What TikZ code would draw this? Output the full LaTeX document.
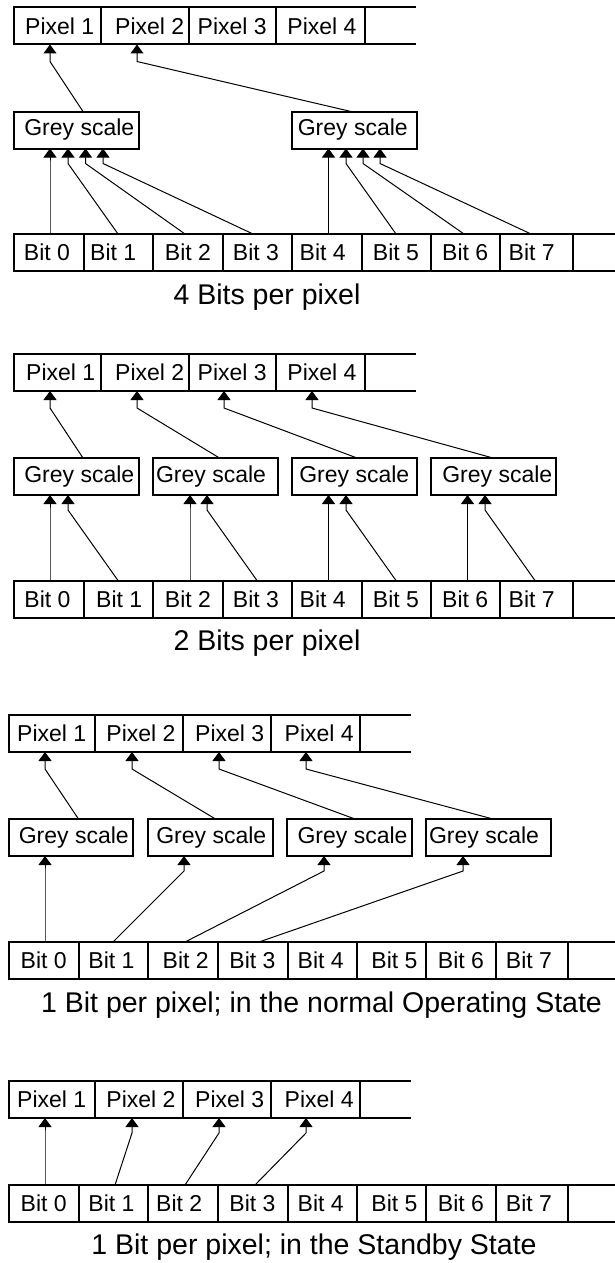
\documentclass[tikz,border=0pt]{standalone}
\usepackage{fontspec}
\setmainfont{Liberation Sans}
\usetikzlibrary{arrows.meta,calc}
\tikzset{
  cell/.style={draw, line width=2pt, inner sep=0pt, outer sep=0pt, anchor=north west,
    minimum height=37pt, font=\fontsize{23}{27}\selectfont},
  con/.style={line width=1pt, -{Triangle[width=13pt,length=9pt]}},
  ext/.style={line width=2pt},
  capt/.style={font=\fontsize{28.5}{32}\selectfont, inner sep=0pt},
}
% text shifted right by half of #1 inside its cell
\newcommand{\tsh}[2]{\makebox[0pt][c]{\hspace*{#1pt}#2}}
% #1 source node, #2 x offset on its top edge, #3 target node, #4 x offset on its bottom edge, #5 bend depth
\newcommand{\feed}[5]{%
  \draw[con] ($(#1.north west)+(#2,0)$) -- ($(#3.south west)+(#4,#5)$) -- ($(#3.south west)+(#4,0)$);}
\begin{document}
\begin{tikzpicture}[x=1pt,y=-1pt]
\useasboundingbox (0,0) rectangle (615,1263);
% ================= Section 1: 4 bits per pixel
\foreach \n/\a/\b/\s in {1/13.5/101/5, 2/101/188.5/10, 3/188.5/276/0, 4/276/365/3}
  \node[cell, minimum width={(\b-\a)*1pt}] (Ap\n) at (\a,7.5) {\tsh{\s}{Pixel \n}};
\draw[ext] (Ap4.north east) -- ++(51,0);
\draw[ext] (Ap4.south east) -- ++(51,0);
\node[cell, minimum width=125.5pt] (Ag1) at (13.5,111.5) {\tsh{6}{Grey scale}};
\node[cell, minimum width=124.5pt] (Ag2) at (292,111.5) {\tsh{-3}{Grey scale}};
\foreach \n/\a/\b/\s in {0/13.5/83.5/-3, 1/83.5/153/-10, 2/153/223/0, 3/223/292/-3, 4/292/361.5/-8, 5/361.5/430.5/0, 6/430.5/500/0, 7/500/572.5/-9}
  \node[cell, minimum width={(\b-\a)*1pt}] (Ab\n) at (\a,234) {\tsh{\s}{Bit \n}};
\draw[ext] (Ab7.north east) -- ++(45,0);
\draw[ext] (Ab7.south east) -- ++(45,0);
\feed{Ag1}{69.5}{Ap1}{36.5}{17}
\feed{Ag2}{59}{Ap2}{36}{17}
\feed{Ab0}{36.5}{Ag1}{36.5}{15}
\feed{Ab1}{34.5}{Ag1}{54.5}{15}
\feed{Ab2}{32}{Ag1}{72}{15}
\feed{Ab3}{30}{Ag1}{89.5}{15}
\feed{Ab4}{36.5}{Ag2}{36.5}{15}
\feed{Ab5}{34.5}{Ag2}{54}{15}
\feed{Ab6}{33.5}{Ag2}{71}{15}
\feed{Ab7}{31}{Ag2}{88}{15}
\node[capt] (Acap) at (267,297) {4 Bits per pixel};
% ================= Section 2: 2 bits per pixel
\foreach \n/\a/\b/\s in {1/13.5/101/7, 2/101/188.5/10, 3/188.5/276/0, 4/276/365/3}
  \node[cell, minimum width={(\b-\a)*1pt}] (Bp\n) at (\a,354) {\tsh{\s}{Pixel \n}};
\draw[ext] (Bp4.north east) -- ++(51,0);
\draw[ext] (Bp4.south east) -- ++(51,0);
\foreach \n/\a/\b/\s in {1/13.5/139/6, 2/153/278/-9, 3/292/416.5/0, 4/430.5/556/8}
  \node[cell, minimum width={(\b-\a)*1pt}] (Bg\n) at (\a,458) {\tsh{\s}{Grey scale}};
\foreach \n/\a/\b/\s in {0/13.5/83.5/-2, 1/83.5/153/2, 2/153/223/0, 3/223/292/-3, 4/292/361.5/-8, 5/361.5/430.5/0, 6/430.5/500/0, 7/500/572.5/-9}
  \node[cell, minimum width={(\b-\a)*1pt}] (Bb\n) at (\a,580.5) {\tsh{\s}{Bit \n}};
\draw[ext] (Bb7.north east) -- ++(45,0);
\draw[ext] (Bb7.south east) -- ++(45,0);
\feed{Bg1}{69.5}{Bp1}{36.5}{17}
\feed{Bg2}{66.5}{Bp2}{36}{17}
\feed{Bg3}{65}{Bp3}{35.5}{17}
\feed{Bg4}{62.5}{Bp4}{36}{17}
\feed{Bb0}{36.5}{Bg1}{36.5}{15}
\feed{Bb1}{34.5}{Bg1}{54.5}{15}
\feed{Bb2}{37}{Bg2}{37}{15}
\feed{Bb3}{34}{Bg2}{54}{15}
\feed{Bb4}{36.5}{Bg3}{36.5}{15}
\feed{Bb5}{34.5}{Bg3}{54}{15}
\feed{Bb6}{37}{Bg4}{37}{15}
\feed{Bb7}{35}{Bg4}{54.5}{15}
\node[capt] (Bcap) at (267,643) {2 Bits per pixel};
% ================= Section 3: 1 bit per pixel, normal operating state
\foreach \n/\a/\b/\s in {1/8.5/95/0, 2/95/183/4, 3/183/270.5/6, 4/270.5/360/8}
  \node[cell, minimum width={(\b-\a)*1pt}] (Cp\n) at (\a,715) {\tsh{\s}{Pixel \n}};
\draw[ext] (Cp4.north east) -- ++(50.5,0);
\draw[ext] (Cp4.south east) -- ++(50.5,0);
\foreach \n/\a/\b/\s in {1/8.5/133/6, 2/148/272.5/2, 3/287/412/6, 4/426/551/-9}
  \node[cell, minimum width={(\b-\a)*1pt}] (Cg\n) at (\a,819) {\tsh{\s}{Grey scale}};
\foreach \n/\a/\b/\s in {0/8.5/79/0, 1/79/148/-4, 2/148/217.5/6, 3/217.5/287.5/0, 4/287.5/357/-3, 5/357/426/6, 6/426/496/0, 7/496/568/-6}
  \node[cell, minimum width={(\b-\a)*1pt}] (Cb\n) at (\a,942) {\tsh{\s}{Bit \n}};
\draw[ext] (Cb7.north east) -- ++(49,0);
\draw[ext] (Cb7.south east) -- ++(49,0);
\feed{Cg1}{70}{Cp1}{36.5}{17}
\feed{Cg2}{67.5}{Cp2}{37}{17}
\feed{Cg3}{68}{Cp3}{36}{17}
\feed{Cg4}{67}{Cp4}{35.5}{17}
\feed{Cb0}{36.5}{Cg1}{36.5}{15}
\feed{Cb1}{34}{Cg2}{36}{15}
\feed{Cb2}{37}{Cg3}{37}{15}
\feed{Cb3}{41.5}{Cg4}{37}{15}
\node[capt] (Ccap) at (321.5,1005) {1 Bit per pixel; in the normal Operating State};
% ================= Section 4: 1 bit per pixel, standby state
\foreach \n/\a/\b/\s in {1/8.5/95/0, 2/95/183/4, 3/183/270.5/6, 4/270.5/360/8}
  \node[cell, minimum width={(\b-\a)*1pt}] (Dp\n) at (\a,1081) {\tsh{\s}{Pixel \n}};
\draw[ext] (Dp4.north east) -- ++(50.5,0);
\draw[ext] (Dp4.south east) -- ++(50.5,0);
\foreach \n/\a/\b/\s in {0/8.5/79/0, 1/79/148/-4, 2/148/217.5/-7, 3/217.5/287.5/0, 4/287.5/357/-3, 5/357/426/6, 6/426/496/0, 7/496/568/-6}
  \node[cell, minimum width={(\b-\a)*1pt}] (Db\n) at (\a,1185) {\tsh{\s}{Bit \n}};
\draw[ext] (Db7.north east) -- ++(49,0);
\draw[ext] (Db7.south east) -- ++(49,0);
\feed{Db0}{36.5}{Dp1}{36.5}{15}
\feed{Db1}{36}{Dp2}{37}{15}
\feed{Db2}{37}{Dp3}{36}{15}
\feed{Db3}{37.5}{Dp4}{35.5}{15}
\node[capt] (Dcap) at (314,1247) {1 Bit per pixel; in the Standby State};
\end{tikzpicture}
\end{document}
